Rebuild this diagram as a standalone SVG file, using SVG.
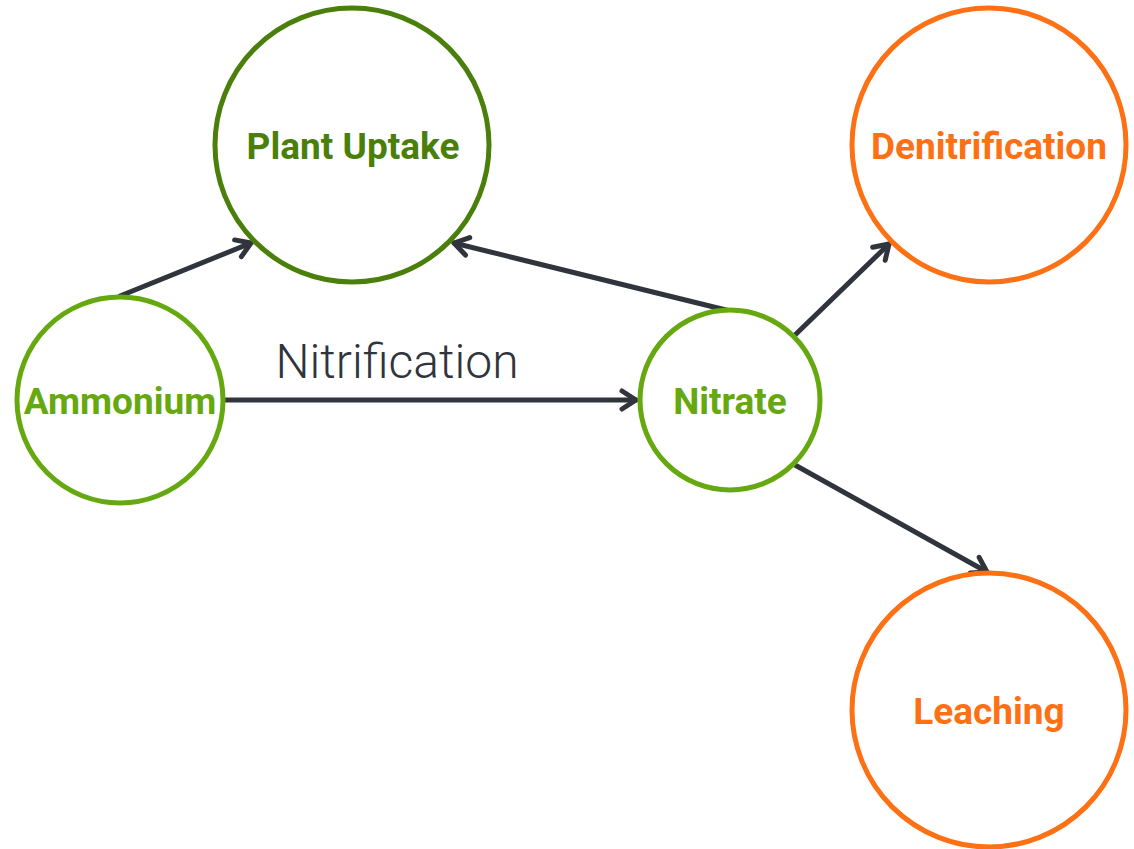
<svg xmlns="http://www.w3.org/2000/svg" width="1134" height="849" viewBox="0 0 1134 849">
<defs>
<style>
.node{fill:#ffffff;stroke-width:5}
.green{stroke:#66a80f}
.dgreen{stroke:#4b7f0b}
.orange{stroke:#fd7014}
.lbl{font-family:Roboto,"Liberation Sans",sans-serif;font-weight:700;font-size:37px;text-anchor:middle;dominant-baseline:central}
.edge{fill:none;stroke:#30343c;stroke-width:5;stroke-linecap:round}
.elbl{font-family:Roboto,"Liberation Sans",sans-serif;font-weight:300;font-size:48px;fill:#30343c;text-anchor:middle}
</style>
<marker id="arr" viewBox="0 0 24 24" refX="21" refY="12" markerWidth="24" markerHeight="24" markerUnits="userSpaceOnUse" orient="auto">
<path d="M7,3 L21,12 L7,21" fill="none" stroke="#30343c" stroke-width="5" stroke-linecap="round" stroke-linejoin="round"/>
</marker>
</defs>
<rect width="1134" height="849" fill="#ffffff"/>
<g id="connectors">
<path class="edge" d="M120,296 L251,243" marker-end="url(#arr)"/>
<path class="edge" d="M730,311 L454,243" marker-end="url(#arr)"/>
<path class="edge" d="M226,400 L636,400" marker-end="url(#arr)"/>
<path class="edge" d="M795,335 L889,244" marker-end="url(#arr)"/>
<path class="edge" d="M795,465 L987,572" marker-end="url(#arr)"/>
<text class="elbl" x="397" y="378">Nitrification</text>
</g>
<g id="plant-uptake">
<circle class="node dgreen" cx="352" cy="145" r="137"/>
<text class="lbl" x="353" y="146" fill="#4b7f0b">Plant Uptake</text>
</g>
<g id="denitrification">
<circle class="node orange" cx="989" cy="145" r="137"/>
<text class="lbl" x="989" y="146" fill="#fd7014">Denitrification</text>
</g>
<g id="ammonium">
<circle class="node green" cx="120" cy="400" r="103"/>
<text class="lbl" x="120" y="401" fill="#66a80f">Ammonium</text>
</g>
<g id="nitrate">
<circle class="node green" cx="730" cy="400" r="90"/>
<text class="lbl" x="730" y="401" fill="#66a80f">Nitrate</text>
</g>
<g id="leaching">
<circle class="node orange" cx="989" cy="710" r="137"/>
<text class="lbl" x="989" y="711" fill="#fd7014">Leaching</text>
</g>
</svg>
